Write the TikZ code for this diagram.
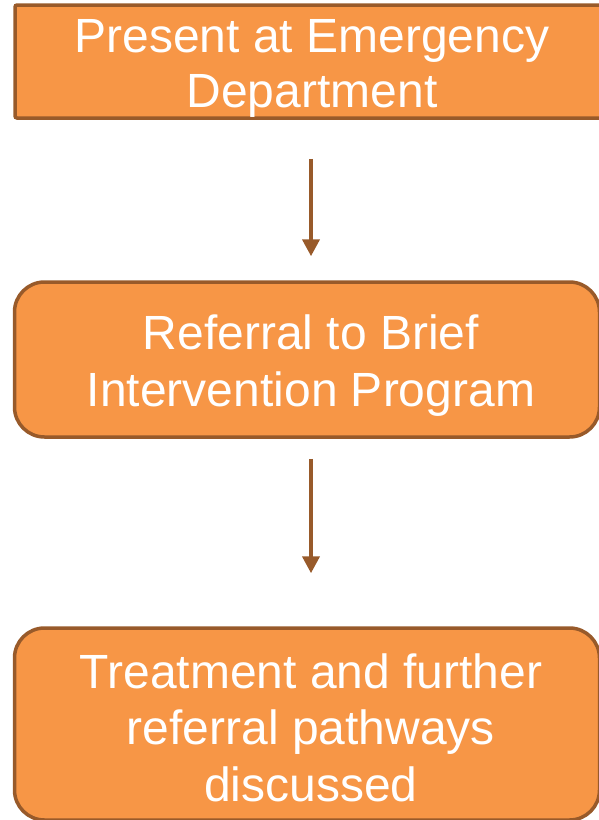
\documentclass[tikz,border=0pt]{standalone}
\usepackage{fontspec}
\setmainfont{Liberation Sans}
\usetikzlibrary{arrows.meta}

\definecolor{boxfill}{HTML}{F79646}
\definecolor{boxline}{HTML}{985A2A}

\tikzstyle{stage}=[draw=boxline,fill=boxfill,line width=3.5pt,inner sep=0pt]
\tikzstyle{words}=[text=white,align=center,anchor=base,inner sep=0pt,
	font=\fontsize{48}{56.5}\selectfont]
\tikzstyle{flow}=[draw=boxline,line width=4pt,-{Triangle[length=17pt,width=17pt]}]

\begin{document}
\begin{tikzpicture}[x=1pt,y=-1pt]
\useasboundingbox (0,0) rectangle (599,820);

% EMERGENCY

\node[stage,rounded corners=2pt,minimum width=595pt,minimum height=113pt] (ed) at (312.5,61.5) {};
\node[words,font=\fontsize{48}{55}\selectfont] (edtext) at (312,107) {Present at Emergency\\Department};

% REFERRAL

\node[stage,rounded corners=30pt,minimum width=585pt,minimum height=155pt] (bip) at (307,359.5) {};
\node[words] (biptext) at (311,406) {Referral to Brief\\Intervention Program};

% TREATMENT

\node[stage,rounded corners=30pt,minimum width=585pt,minimum height=192pt] (tx) at (307,724) {};
\node[words] (txtext) at (311,801) {Treatment and further\\referral pathways\\discussed};

\coordinate (axis) at (311,0);

\draw[flow,shorten <=39pt,shorten >=24pt] (ed.south -| axis) -- (bip.north -| axis);
\draw[flow,shorten <=20pt,shorten >=53pt] (bip.south -| axis) -- (tx.north -| axis);

\end{tikzpicture}
\end{document}
